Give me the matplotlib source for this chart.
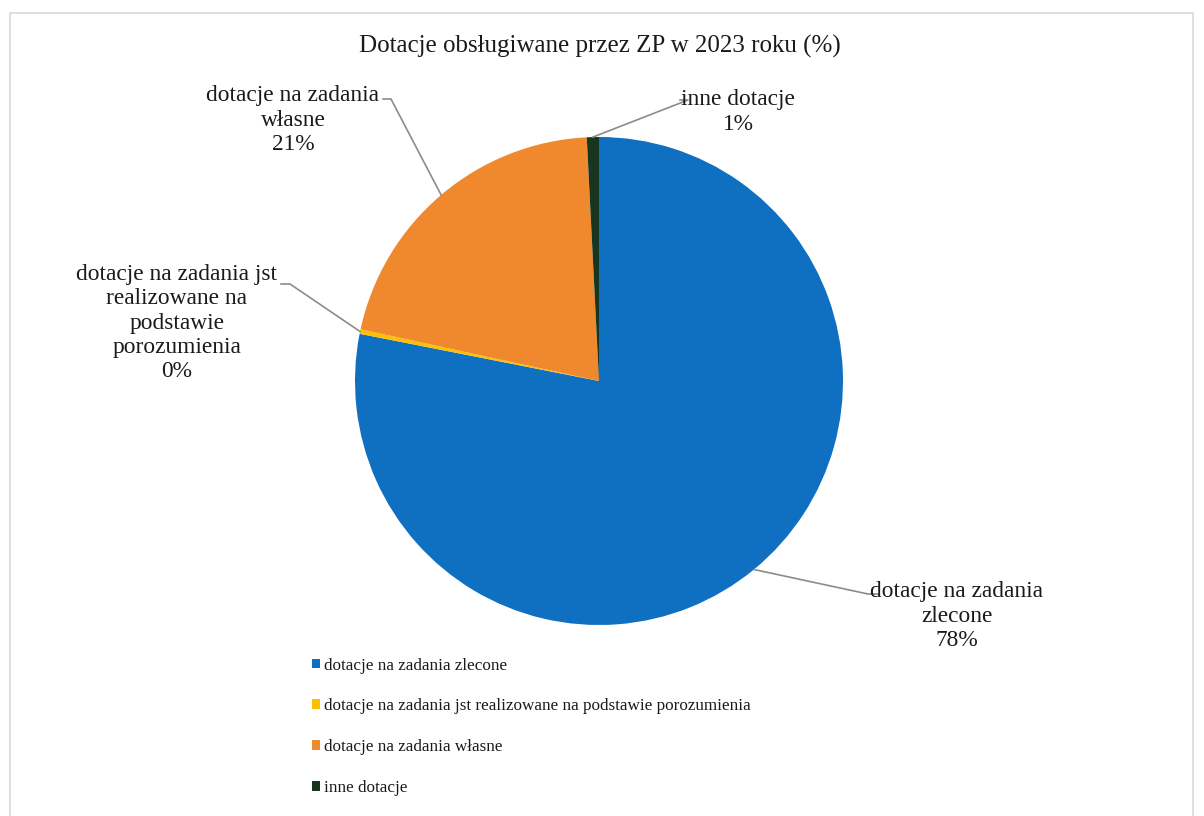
import numpy as np
import matplotlib
matplotlib.use("Agg")
import matplotlib.pyplot as plt
from matplotlib.patches import Patch, Rectangle

title = "Dotacje obsługiwane przez ZP w 2023 roku (%)"
categories = [
    "dotacje na zadania zlecone",
    "dotacje na zadania jst realizowane na podstawie porozumienia",
    "dotacje na zadania własne",
    "inne dotacje",
]
label_texts = [
    "dotacje na zadania\nzlecone\n78%",
    "dotacje na zadania jst\nrealizowane na\npodstawie\nporozumienia\n0%",
    "dotacje na zadania\nwłasne\n21%",
    "inne dotacje\n1%",
]
values = [78.1, 0.3, 20.8, 0.8]
colors = ["#0F6FC1", "#FFC000", "#F0892D", "#18361F"]

W, H = 1204, 816
fig = plt.figure(figsize=(W / 100, H / 100), dpi=100)
plt.rcParams["font.family"] = ["Liberation Serif", "DejaVu Serif"]

# frame
fig.patches.append(Rectangle((10 / W, -0.01), (1193 - 10) / W, (H - 13) / H + 0.01,
                             transform=fig.transFigure, fill=False,
                             edgecolor="#d9d9d9", linewidth=1.2))

cx, cy, r = 599, 381, 244
ax = fig.add_axes([(cx - r) / W, (H - cy - r) / H, 2 * r / W, 2 * r / H])

wedges, _ = ax.pie(values, colors=colors, startangle=90, counterclock=False,
                   radius=1, center=(0, 0), frame=False,
                   wedgeprops=dict(linewidth=0))
ax.set_xlim(-1, 1)
ax.set_ylim(-1, 1)
ax.set_aspect("equal")
ax.axis("off")

def px(x, y):
    return ((x - cx) / r, (cy - y) / r)

# label positions (block centers) and elbow points in pixel space
label_pos = [(957, 616), (177, 323), (293, 120), (738, 112)]
elbows = [((868, 594), (878, 594)), ((290, 284), (281, 284)),
          ((391, 99), (383, 99)), ((688, 100), (680, 100))]

for w, txt, lp, (e1, e2) in zip(wedges, label_texts, label_pos, elbows):
    ang = np.deg2rad((w.theta1 + w.theta2) / 2)
    x0, y0 = np.cos(ang), np.sin(ang)
    ex1 = px(*e1)
    ex2 = px(*e2)
    ax.plot([x0, ex1[0], ex2[0]], [y0, ex1[1], ex2[1]], color="#8c8c8c",
            linewidth=1.2, clip_on=False)
    tx, ty = px(*lp)
    ax.text(tx, ty, txt, ha="center", va="center", fontsize=16.8,
            linespacing=1.2, color="#1a1a1a", clip_on=False)

fig.text(600 / W, 1 - 46 / H, title, ha="center", va="center", fontsize=18,
         color="#1a1a1a")

handles = [Patch(facecolor=c, edgecolor="none") for c in colors]
leg = fig.legend(handles, categories, loc="upper left",
                 bbox_to_anchor=(303 / W, 1 - 649 / H), frameon=False,
                 fontsize=12.3, handlelength=0.5, handleheight=0.5,
                 handletextpad=0.25, labelspacing=1.45, borderpad=0)
for t in leg.get_texts():
    t.set_color("#1a1a1a")

fig.savefig("out.png", dpi=100, facecolor="white")
